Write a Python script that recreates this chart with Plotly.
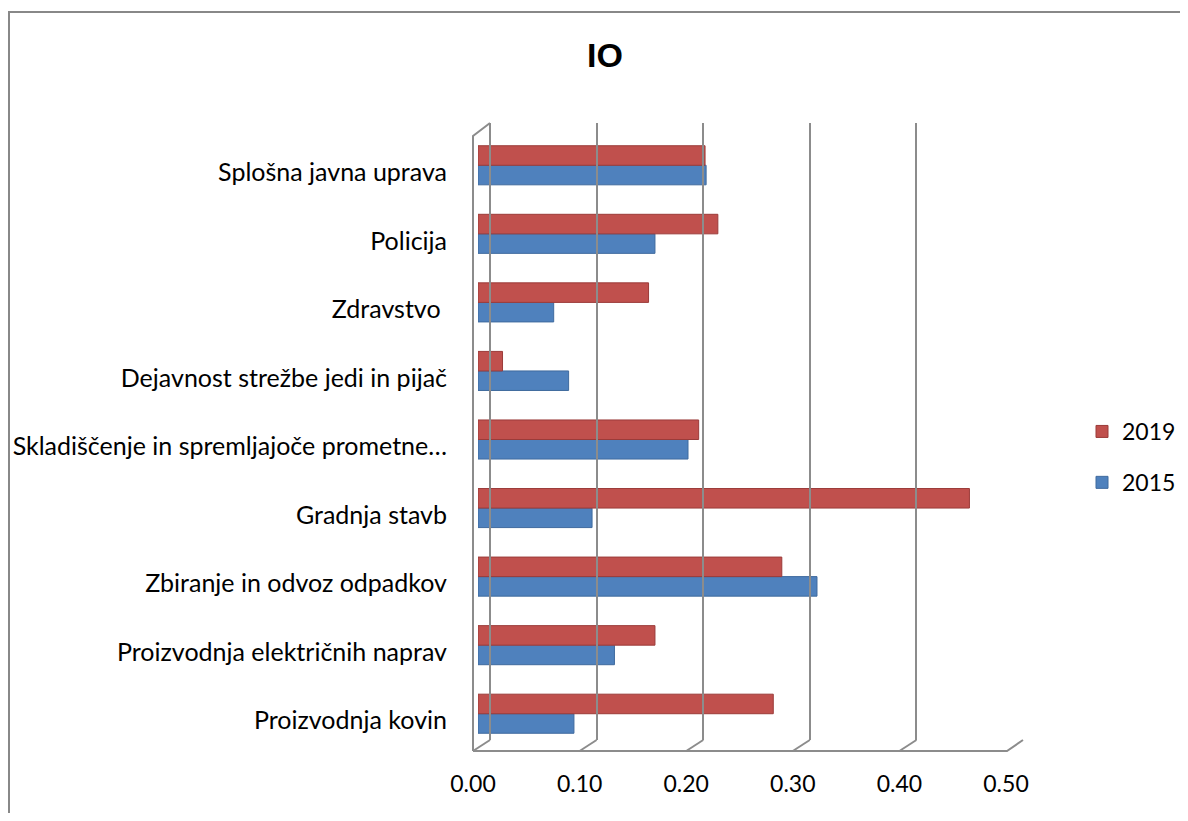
import plotly.graph_objects as go

categories = [
    "Proizvodnja kovin",
    "Proizvodnja električnih naprav",
    "Zbiranje in odvoz odpadkov",
    "Gradnja stavb",
    "Skladiščenje in spremljajoče prometne…",
    "Dejavnost strežbe jedi in pijač",
    "Zdravstvo ",
    "Policija",
    "Splošna javna uprava",
]
values_2015 = [0.090, 0.128, 0.318, 0.107, 0.197, 0.085, 0.071, 0.166, 0.214]
values_2019 = [0.277, 0.166, 0.285, 0.461, 0.207, 0.023, 0.160, 0.225, 0.213]
tick_values = [0.0, 0.1, 0.2, 0.3, 0.4, 0.5]
tick_labels = ["0.00", "0.10", "0.20", "0.30", "0.40", "0.50"]

# page body has an 8px default margin; work in screen pixels and convert
OFF = 8
W, H = 1172, 805
L = 478 - OFF            # x=0 of the bars
XR = 1011 - OFF          # x=0.5 of the bars
T = 123 - OFF            # top of back wall
BOT = 751 - OFF          # floor front edge
R = W - XR
B = H - BOT
PW, PH = W - L - R, H - T - B

def px(x):
    return (x - OFF - L) / PW

def py(y):
    return 1 - (y - OFF - T) / PH

FONT = "Lato"
GRID = "#8c8c8c"

fig = go.Figure()
fig.add_trace(go.Bar(
    y=categories, x=values_2015, orientation="h", name="2015",
    marker=dict(color="#4F81BD", line=dict(color="#3F6A9E", width=1)),
    legendgroup="b", legendrank=2,
))
fig.add_trace(go.Bar(
    y=categories, x=values_2019, orientation="h", name="2019",
    marker=dict(color="#C0504D", line=dict(color="#9B3B39", width=1)),
    legendgroup="a", legendrank=1,
))

shift = 12 / (PW / 0.5)
fig.update_layout(
    width=W, height=H,
    margin=dict(l=L, r=R, t=T, b=B, autoexpand=False),
    paper_bgcolor="white", plot_bgcolor="rgba(0,0,0,0)",
    barmode="group", bargap=0.43, bargroupgap=0.0,
    font=dict(family=FONT, size=25, color="black"),
    title=dict(text="<b>IO</b>", x=px(605), xref="paper", xanchor="center",
               y=1 - (55 - OFF) / H, yref="container", yanchor="middle",
               font=dict(family="Liberation Sans", size=34, color="black")),
    xaxis=dict(range=[0, 0.5], tickvals=tick_values, ticktext=tick_labels,
               showgrid=False, zeroline=False, showline=False, ticks="",
               ticklabelstandoff=20, ticklabelshift=-5,
               tickfont=dict(size=23), fixedrange=True),
    yaxis=dict(domain=[py(748), py(131)],
               categoryorder="array", categoryarray=categories,
               showgrid=False, zeroline=False, showline=False, ticks="",
               ticklabelstandoff=30, ticklabelshift=7),
    xaxis2=dict(range=[-shift, 0.5 - shift], overlaying="x", anchor="y2",
                showgrid=True, gridcolor=GRID, gridwidth=2, dtick=0.1, tick0=0,
                showticklabels=False, zeroline=False, showline=False),
    yaxis2=dict(domain=[py(740), 1], anchor="x2", showticklabels=False,
                showgrid=False, zeroline=False, range=[0, 1]),
    legend=dict(x=px(1082), y=py(410), xanchor="left", yanchor="top",
                traceorder="grouped", tracegroupgap=18,
                font=dict(family=FONT, size=23), bgcolor="rgba(0,0,0,0)"),
    showlegend=True,
)
# invisible trace to activate the back-wall gridline axis
fig.add_trace(go.Scatter(x=[None], y=[None], xaxis="x2", yaxis="y2",
                         showlegend=False, hoverinfo="skip"))

line = dict(color=GRID, width=2)
shapes = []
# left wall
shapes.append(dict(type="path", xref="paper", yref="paper", line=line,
                   path=f"M {px(473)},{py(751)} L {px(473)},{py(136)} L {px(490)},{py(123)}"))
# floor front edge and right diagonal
shapes.append(dict(type="path", xref="paper", yref="paper", line=line,
                   path=f"M {px(473)},{py(751)} L {px(1007)},{py(751)} L {px(1023)},{py(740)}"))
# floor diagonals under each back gridline
for k in range(5):
    xb = 490 + k * 106.6
    shapes.append(dict(type="line", xref="paper", yref="paper", line=line,
                       x0=px(xb - 17), y0=py(751), x1=px(xb), y1=py(740)))
# outer frame
shapes.append(dict(type="rect", xref="paper", yref="paper",
                   x0=px(9), y0=py(900), x1=px(1300), y1=py(12),
                   line=dict(color="#888888", width=2)))
fig.update_layout(shapes=shapes)

fig.write_html("out.html")
